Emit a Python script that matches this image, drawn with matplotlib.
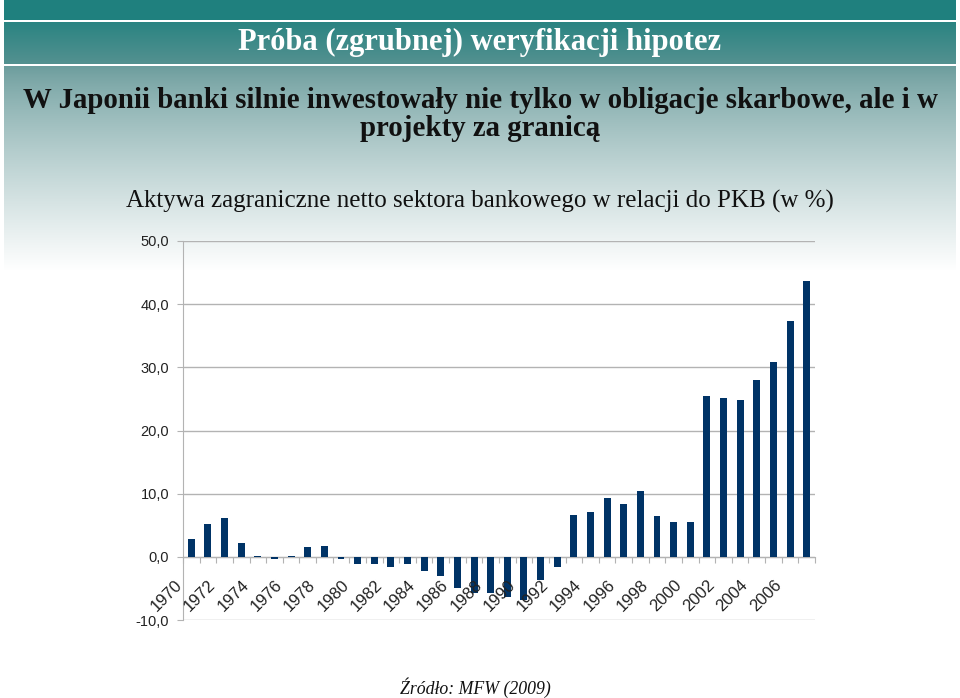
import numpy as np
import matplotlib
matplotlib.use("Agg")
import matplotlib.pyplot as plt
from matplotlib.transforms import ScaledTranslation

years = list(range(1970, 2008))
values = [2.8, 5.2, 6.1, 2.2, 0.2, -0.3, 0.2, 1.5, 1.7, -0.3,
          -1.1, -1.2, -1.6, -1.1, -2.2, -3.1, -5.0, -5.7, -5.7, -6.3,
          -6.9, -3.6, -1.6, 6.6, 7.1, 9.3, 8.3, 10.4, 6.4, 5.5,
          5.5, 25.4, 25.2, 24.8, 28.0, 30.8, 37.3, 43.7]
y_ticks = [-10, 0, 10, 20, 30, 40, 50]
y_tick_labels = ["-10,0", "0,0", "10,0", "20,0", "30,0", "40,0", "50,0"]
x_labels = [str(y) if (y - 1970) % 2 == 0 else "" for y in years]

header = "Próba (zgrubnej) weryfikacji hipotez"
subtitle1 = "W Japonii banki silnie inwestowały nie tylko w obligacje skarbowe, ale i w"
subtitle2 = "projekty za granicą"
chart_title = "Aktywa zagraniczne netto sektora bankowego w relacji do PKB (w %)"
source = "Źródło: MFW (2009)"

W, H = 960, 698
fig = plt.figure(figsize=(W / 100, H / 100), dpi=100)

# background image
bg = np.ones((H, W, 3))
def hexrgb(h):
    h = h.lstrip('#')
    return np.array([int(h[i:i + 2], 16) / 255 for i in (0, 2, 4)])
top = hexrgb('#1f807e')
band_a = hexrgb('#2a8482')
band_b = hexrgb('#559190')
grad_a = hexrgb('#6b9c9c')
white = np.ones(3)
bg[0:20, :] = top
bg[20:22, :] = white
for r in range(22, 64):
    t = (r - 22) / 42
    bg[r, :] = band_a * (1 - t) + band_b * t
bg[64:66, :] = white
for r in range(66, 270):
    t = ((r - 66) / 204) ** 0.8
    bg[r, :] = grad_a * (1 - t) + white * t
bg[:, 0:4] = white
bg[:, W - 4:] = white
bax = fig.add_axes([0, 0, 1, 1], zorder=-10)
bax.imshow(bg, aspect='auto', extent=[0, 1, 0, 1], interpolation='nearest')
bax.axis('off')

serif = ['Liberation Serif', 'DejaVu Serif']
sans = ['Liberation Sans', 'DejaVu Sans']

fig.text(0.5, 1 - 42 / H, header, ha='center', va='center', color='white',
         fontsize=22, fontweight='bold', family=serif)
fig.text(0.5, 1 - 100 / H, subtitle1, ha='center', va='center', color='#111111',
         fontsize=20.8, fontweight='bold', family=serif)
fig.text(0.5, 1 - 129 / H, subtitle2, ha='center', va='center', color='#111111',
         fontsize=20.8, fontweight='bold', family=serif)
fig.text(0.5, 1 - 201 / H, chart_title, ha='center', va='center', color='#111111',
         fontsize=18, family=serif)
fig.text(0.495, 1 - 688 / H, source, ha='center', va='center', color='#111111',
         fontsize=12.8, style='italic', family=serif)

ax = fig.add_axes([183 / W, 1 - 620 / H, (815 - 183) / W, (620 - 241) / H])
ax.patch.set_alpha(0)
x = np.arange(len(years)) + 0.5
ax.bar(x, values, width=0.42, color='#003366', zorder=3)
ax.set_xlim(0, len(years))
ax.set_ylim(-10, 50)
ax.set_yticks(y_ticks)
ax.set_yticklabels(y_tick_labels, family=sans, fontsize=10.5, color='#222222')
ax.yaxis.grid(True, color='#b3b3b3', linewidth=1)
ax.set_axisbelow(True)
for s in ['top', 'right']:
    ax.spines[s].set_visible(False)
ax.spines['left'].set_color('#b3b3b3')
ax.spines['bottom'].set_position(('data', 0))
ax.spines['bottom'].set_color('#b3b3b3')
ax.set_xticks(np.arange(len(years) + 1))
ax.set_xticklabels([])
ax.tick_params(axis='x', length=4, color='#b3b3b3', direction='out')
ax.tick_params(axis='y', length=4, color='#b3b3b3', pad=6)

off = ScaledTranslation(-6 / 100, -20 / 100, fig.dpi_scale_trans)
for xi, lab in zip(x, x_labels):
    if lab:
        ax.text(xi, 0, lab, rotation=45, ha='right', va='top', fontsize=12,
                family=sans, color='#222222', transform=ax.transData + off)

fig.savefig('out.png', dpi=100)
